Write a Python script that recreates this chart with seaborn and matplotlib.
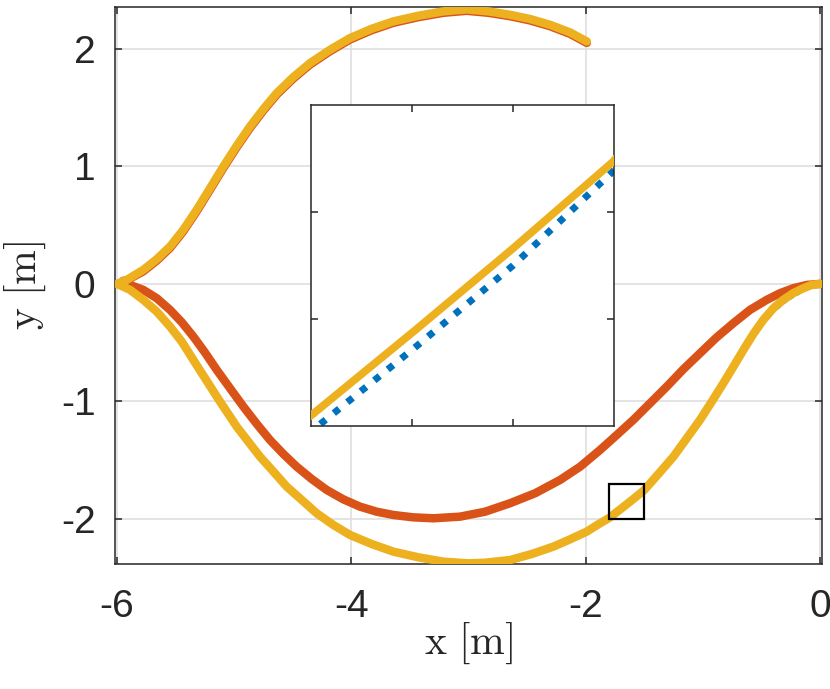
import numpy as np
import pandas as pd
import seaborn as sns
import matplotlib
matplotlib.use("Agg")
from matplotlib import pyplot as plt
from matplotlib.patches import Rectangle

# reference path (blue dotted), lower arc only, right -> left
ref_x = [0.0, -0.073, -0.145, -0.230, -0.316, -0.400, -0.486, -0.571, -0.656, -0.741,
         -0.827, -0.926, -1.026, -1.139, -1.253, -1.381, -1.501, -1.600, -1.695, -1.801,
         -1.893, -1.992, -2.135, -2.277, -2.462, -2.647, -2.860, -3.003, -3.216, -3.429,
         -3.642, -3.827, -4.012, -4.154, -4.296, -4.424, -4.552, -4.666, -4.780, -4.880,
         -4.979, -5.064, -5.149, -5.249, -5.349, -5.448, -5.548, -5.661, -5.776, -5.889,
         -6.0]
ref_y = [0.0, -0.020, -0.060, -0.105, -0.163, -0.235, -0.333, -0.452, -0.588, -0.728,
         -0.868, -1.022, -1.175, -1.330, -1.486, -1.632, -1.762, -1.850, -1.925, -2.006,
         -2.060, -2.121, -2.187, -2.249, -2.311, -2.362, -2.385, -2.390, -2.376, -2.339,
         -2.291, -2.226, -2.149, -2.064, -1.965, -1.851, -1.738, -1.610, -1.483, -1.355,
         -1.227, -1.100, -0.972, -0.816, -0.660, -0.504, -0.376, -0.249, -0.148, -0.062,
         0.0]

# red path: lower arc right -> left, then upper arc
red_x = [0.0, -0.115, -0.230, -0.343, -0.457, -0.599, -0.741, -0.883, -1.026, -1.168,
         -1.310, -1.452, -1.595, -1.736, -1.879, -2.049, -2.220, -2.433, -2.647, -2.860,
         -3.073, -3.301, -3.472, -3.642, -3.784, -3.927, -4.069, -4.211, -4.339, -4.467,
         -4.581, -4.695, -4.808, -4.922, -5.036, -5.149, -5.249, -5.349, -5.448, -5.548,
         -5.661, -5.776, -5.889, -5.950,
         -5.917, -5.776, -5.661, -5.548, -5.434, -5.320, -5.206, -5.093, -4.979, -4.865,
         -4.752, -4.637, -4.496, -4.353, -4.183, -4.012, -3.827, -3.642, -3.429, -3.216,
         -3.016, -2.832, -2.647, -2.476, -2.306, -2.135, -1.992]
red_y = [0.0, -0.009, -0.037, -0.079, -0.136, -0.221, -0.334, -0.454, -0.590, -0.726,
         -0.874, -1.015, -1.157, -1.285, -1.413, -1.555, -1.668, -1.781, -1.866, -1.938,
         -1.980, -1.994, -1.986, -1.966, -1.938, -1.895, -1.833, -1.753, -1.660, -1.555,
         -1.447, -1.328, -1.191, -1.044, -0.888, -0.732, -0.585, -0.448, -0.326, -0.221,
         -0.122, -0.051, -0.009, 0.025,
         0.030, 0.107, 0.198, 0.305, 0.448, 0.618, 0.802, 0.986, 1.162, 1.327,
         1.474, 1.611, 1.747, 1.866, 1.979, 2.079, 2.158, 2.221, 2.269, 2.306,
         2.323, 2.306, 2.277, 2.241, 2.192, 2.127, 2.050]

# yellow path: lower arc right -> left, then upper arc
yel_x = [0.0, -0.073, -0.145, -0.230, -0.316, -0.400, -0.486, -0.571, -0.656, -0.741,
         -0.827, -0.926, -1.026, -1.139, -1.253, -1.381, -1.501, -1.600, -1.695, -1.801,
         -1.893, -1.992, -2.135, -2.277, -2.462, -2.647, -2.860, -3.003, -3.216, -3.429,
         -3.642, -3.827, -4.012, -4.154, -4.296, -4.424, -4.552, -4.666, -4.780, -4.880,
         -4.979, -5.064, -5.149, -5.249, -5.349, -5.448, -5.548, -5.661, -5.776, -5.889,
         -6.0,
         -5.917, -5.776, -5.661, -5.548, -5.434, -5.320, -5.206, -5.093, -4.979, -4.865,
         -4.752, -4.637, -4.496, -4.353, -4.183, -4.012, -3.827, -3.642, -3.429, -3.216,
         -3.016, -2.832, -2.647, -2.476, -2.306, -2.135, -1.992]
yel_y = [0.0, -0.009, -0.037, -0.079, -0.136, -0.207, -0.306, -0.426, -0.562, -0.704,
         -0.845, -1.002, -1.157, -1.313, -1.470, -1.617, -1.753, -1.834, -1.909, -1.991,
         -2.045, -2.107, -2.173, -2.235, -2.298, -2.349, -2.372, -2.377, -2.363, -2.326,
         -2.278, -2.213, -2.136, -2.051, -1.952, -1.838, -1.725, -1.597, -1.470, -1.342,
         -1.214, -1.087, -0.959, -0.803, -0.647, -0.491, -0.363, -0.236, -0.136, -0.051,
         0.0,
         0.034, 0.119, 0.210, 0.317, 0.460, 0.630, 0.814, 0.998, 1.174, 1.339,
         1.486, 1.623, 1.759, 1.878, 1.991, 2.091, 2.170, 2.233, 2.281, 2.318,
         2.335, 2.318, 2.289, 2.253, 2.204, 2.139, 2.062]

xticks = [-6, -4, -2, 0]
yticks = [-2, -1, 0, 1, 2]
zoom_xlim = (-1.8, -1.5)
zoom_ylim = (-2.0, -1.7)
zoom_xticks = [-1.7, -1.6]
zoom_yticks = [-1.9, -1.8]

c_blue = "#0072BD"
c_red = "#D95319"
c_yel = "#EDB120"
c_axis = "#262626"

sns.set_style("white")
plt.rcParams["font.family"] = ["Liberation Sans", "DejaVu Sans"]
plt.rcParams["mathtext.fontset"] = "cm"
plt.rcParams["axes.unicode_minus"] = False

ref = pd.DataFrame({"x": ref_x, "y": ref_y})
red = pd.DataFrame({"x": red_x, "y": red_y})
yel = pd.DataFrame({"x": yel_x, "y": yel_y})

fig = plt.figure(figsize=(8.3, 6.89), dpi=100)
ax = fig.add_axes([0.1386, 0.1814, 0.8518, 0.8084])


def style_axes(a):
    for s in a.spines.values():
        s.set_color(c_axis)
        s.set_linewidth(1.1)
    a.tick_params(direction="in", length=5, width=1.1, color=c_axis,
                  top=True, right=True, bottom=True, left=True)


def draw_paths(a, lw, ref_lw, dash):
    sns.lineplot(data=ref, x="x", y="y", sort=False, estimator=None, ax=a,
                 color=c_blue, linewidth=ref_lw, zorder=2)
    a.lines[-1].set_dashes(dash)
    a.lines[-1].set_dash_capstyle("butt")
    sns.lineplot(data=red, x="x", y="y", sort=False, estimator=None, ax=a,
                 color=c_red, linewidth=lw, zorder=3)
    sns.lineplot(data=yel, x="x", y="y", sort=False, estimator=None, ax=a,
                 color=c_yel, linewidth=lw, zorder=4)
    for ln in a.lines[-2:]:
        ln.set_solid_joinstyle("round")
        ln.set_solid_capstyle("round")


draw_paths(ax, 6.1, 2.2, (1, 1.5))
ax.set_xlim(-6.017, 0.015)
ax.set_ylim(-2.383, 2.355)
ax.set_xticks(xticks)
ax.set_yticks(yticks)
ax.grid(True, color="#DFDFDF", linewidth=1.2)
ax.set_axisbelow(True)
style_axes(ax)
ax.tick_params(labelsize=28, labelcolor=c_axis)
ax.tick_params(axis="x", pad=18)
ax.tick_params(axis="y", pad=14)
ax.set_xlabel(r"$\mathrm{x\ [m]}$", fontsize=30, labelpad=-3)
ax.set_ylabel(r"$\mathrm{y\ [m]}$", fontsize=30, labelpad=9)

# zoom box
ax.add_patch(Rectangle((zoom_xlim[0], zoom_ylim[0]), zoom_xlim[1] - zoom_xlim[0],
                       zoom_ylim[1] - zoom_ylim[0], fill=False, edgecolor="black",
                       linewidth=1.6, zorder=6))

# inset
axi = fig.add_axes([0.3747, 0.3817, 0.3651, 0.4659])
axi.set_facecolor("white")
draw_paths(axi, 5.6, 5.0, (1, 1.5))
axi.set_xlim(*zoom_xlim)
axi.set_ylim(*zoom_ylim)
axi.set_xticks(zoom_xticks)
axi.set_yticks(zoom_yticks)
axi.set_xticklabels([])
axi.set_yticklabels([])
axi.set_xlabel("")
axi.set_ylabel("")
axi.grid(False)
style_axes(axi)

fig.savefig("out.png", dpi=100)
